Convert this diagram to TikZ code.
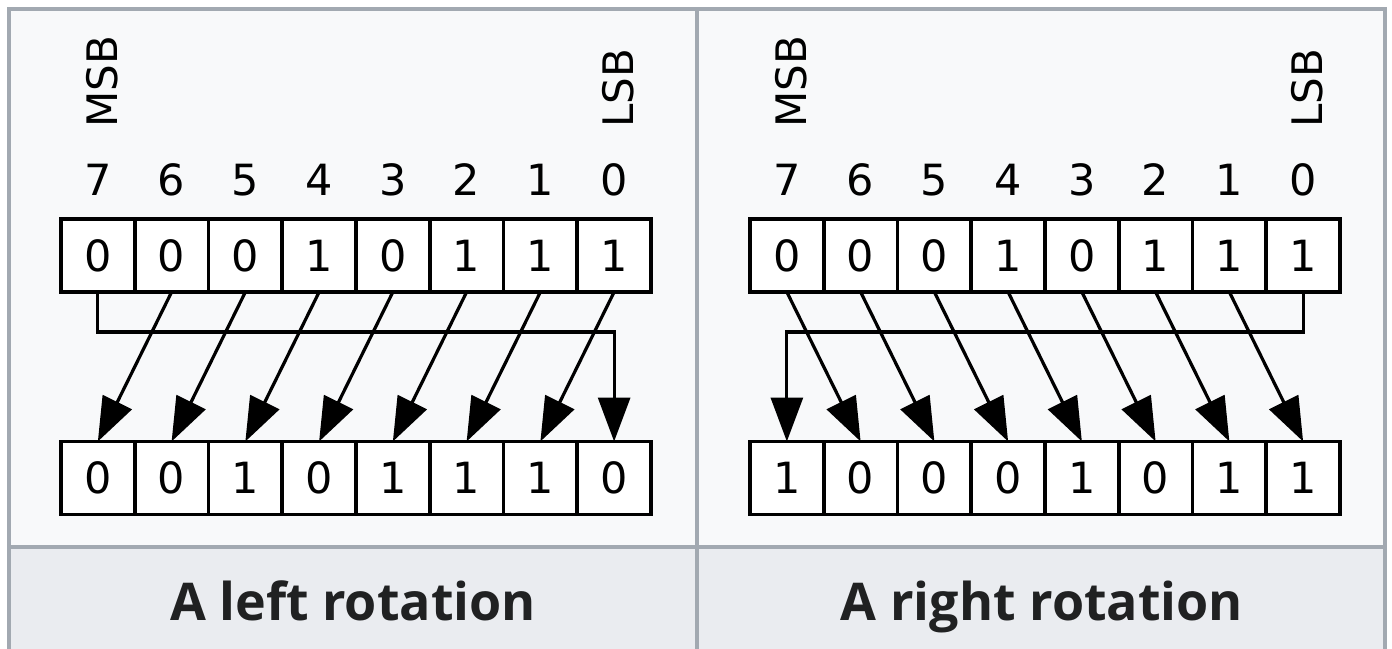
\documentclass[tikz,border=0pt]{standalone}
\usepackage{fontspec}
\setmainfont{DejaVu Sans}
\newfontfamily\capfont{Open Sans}
\usetikzlibrary{arrows.meta}
\definecolor{framegray}{HTML}{A2A9B1}
\definecolor{panelbg}{HTML}{F8F9FA}
\definecolor{capbg}{HTML}{EAECF0}
\definecolor{captext}{HTML}{202122}

\begin{document}
\begin{tikzpicture}[x=0.5pt,y=-0.5pt,
  cell/.style={draw, line width=1.8pt, fill=white, minimum width=36.875pt,
    minimum height=36.5pt, inner sep=0pt, outer sep=0pt,
    font=\fontsize{21.5}{24}\selectfont},
  bitnum/.style={anchor=base, inner sep=0pt, font=\fontsize{21.5}{24}\selectfont},
  endlabel/.style={rotate=90, anchor=base west, inner sep=0pt,
    font=\fontsize{21}{24}\selectfont},
  arr/.style={line width=1.6pt, -{Triangle[length=22pt,width=16pt]}},
  caption/.style={anchor=base, inner sep=0pt, text=captext,
    font=\capfont\bfseries\fontsize{26}{30}\selectfont},
  rule/.style={draw=framegray, line width=2pt}
]
\useasboundingbox (0,0) rectangle (1392,648);
\fill[white] (0,0) rectangle (1392,648);

% table background and rules
\fill[panelbg] (9,9) rectangle (1385,547);
\fill[capbg] (9,547) rectangle (1385,660);
\draw[rule] (9,660) -- (9,9) -- (1385,9) -- (1385,660);
\draw[rule] (697,9) -- (697,660);
\draw[rule] (9,547) -- (1385,547);

% ---------- left rotation ----------
\foreach \v [count=\i from 0] in {0,0,0,1,0,1,1,1}
  \node[cell] (Lt\i) at ({97.875+73.75*\i},255.5) {\v};
\foreach \v [count=\i from 0] in {0,0,1,0,1,1,1,0}
  \node[cell] (Lb\i) at ({97.875+73.75*\i},478) {\v};
\foreach \i [evaluate=\i as \b using int(7-\i)] in {0,...,7}
  \node[bitnum] (Ln\i) at ({97.875+73.75*\i},195) {\b};
\node[endlabel] (Lmsb) at (117,128) {MSB};
\node[endlabel] (Llsb) at (633,128) {LSB};
\foreach \i [evaluate=\i as \j using int(\i-1)] in {1,...,7}
  \draw[arr] (Lt\i.south) -- (Lb\j.north);
\draw[arr] (Lt0.south) -- ++(0,40) -| (Lb7.north);
\node[caption] (Lcap) at (353,620) {A left rotation};

% ---------- right rotation ----------
\foreach \v [count=\i from 0] in {0,0,0,1,0,1,1,1}
  \node[cell] (Rt\i) at ({786.875+73.75*\i},255.5) {\v};
\foreach \v [count=\i from 0] in {1,0,0,0,1,0,1,1}
  \node[cell] (Rb\i) at ({786.875+73.75*\i},478) {\v};
\foreach \i [evaluate=\i as \b using int(7-\i)] in {0,...,7}
  \node[bitnum] (Rn\i) at ({786.875+73.75*\i},195) {\b};
\node[endlabel] (Rmsb) at (806,128) {MSB};
\node[endlabel] (Rlsb) at (1322,128) {LSB};
\foreach \i [evaluate=\i as \j using int(\i+1)] in {0,...,6}
  \draw[arr] (Rt\i.south) -- (Rb\j.north);
\draw[arr] (Rt7.south) -- ++(0,40) -| (Rb0.north);
\node[caption] (Rcap) at (1042,620) {A right rotation};
\end{tikzpicture}
\end{document}
